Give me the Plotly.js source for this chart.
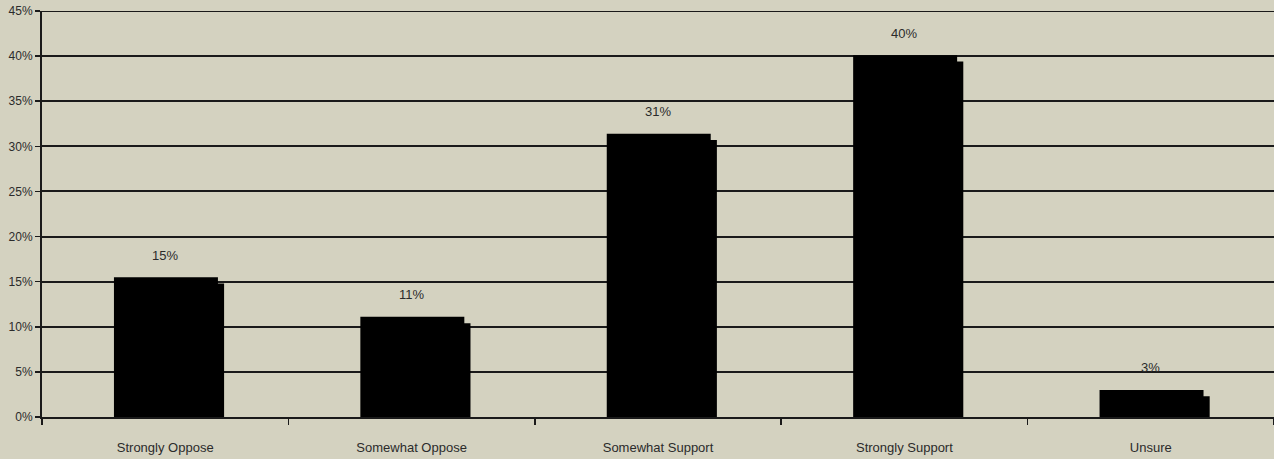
<!DOCTYPE html>
<html>
<head>
<meta charset="utf-8">
<script src="https://cdn.plot.ly/plotly-3.0.1.min.js"></script>
<style>
html,body{margin:0;padding:0;background:#d4d2c0;}
#chart{width:1274px;height:459px;}
</style>
</head>
<body>
<div id="chart"></div>
<script>
const categories = ["Strongly Oppose", "Somewhat Oppose", "Somewhat Support", "Strongly Support", "Unsure"];
const values = [15.5, 11.1, 31.4, 40.1, 3.0];
const valueLabels = ["15%", "11%", "31%", "40%", "3%"];
const yTickVals = [0, 5, 10, 15, 20, 25, 30, 35, 40, 45];
const yTickText = ["0%", "5%", "10%", "15%", "20%", "25%", "30%", "35%", "40%", "45%"];

const fam = "Liberation Sans, Arial, sans-serif";
const txtColor = "#2b2b2b";

const shadow = {
  type: "bar", x: categories, y: values, base: -0.7,
  width: 0.422, offset: -0.183,
  marker: {color: "#000000", line: {width: 0}},
  hoverinfo: "skip", showlegend: false
};
const front = {
  type: "bar", x: categories, y: values,
  width: 0.422, offset: -0.208,
  marker: {color: "#000000", line: {width: 0}},
  showlegend: false
};

const annotations = categories.map((c, i) => ({
  x: c, y: values[i], xref: "x", yref: "y",
  text: valueLabels[i], showarrow: false,
  yanchor: "middle", yshift: 22,
  font: {family: fam, size: 13, color: txtColor}
}));

const layout = {
  width: 1274, height: 459,
  margin: {l: 42, r: 0, t: 11, b: 42, pad: 0},
  paper_bgcolor: "#d4d2c0",
  plot_bgcolor: "#d4d2c0",
  barmode: "overlay",
  font: {family: fam, size: 12, color: txtColor},
  xaxis: {
    type: "category",
    showgrid: false,
    showline: true, linecolor: "#1a1a1a", linewidth: 2,
    ticks: "outside", ticklen: 6, tickcolor: "#1a1a1a", tickwidth: 1.5,
    tickson: "boundaries",
    ticklabelstandoff: 17,
    tickfont: {family: fam, size: 13, color: txtColor},
    range: [-0.5, 4.5],
    fixedrange: true
  },
  yaxis: {
    range: [0, 45],
    tickvals: yTickVals, ticktext: yTickText,
    showgrid: true, gridcolor: "#1a1a1a", gridwidth: 2,
    zeroline: false,
    showline: true, linecolor: "#1a1a1a", linewidth: 2,
    ticks: "outside", ticklen: 5, tickcolor: "#1a1a1a", tickwidth: 1.5,
    tickfont: {family: fam, size: 12, color: txtColor},
    fixedrange: true
  },
  shapes: [{
    type: "line", xref: "paper", yref: "y", x0: 0, x1: 1, y0: 45, y1: 45,
    line: {color: "#1a1a1a", width: 2}, layer: "below"
  }],
  annotations: annotations
};

Plotly.newPlot("chart", [shadow, front], layout, {displayModeBar: false, staticPlot: true});
</script>
</body>
</html>
